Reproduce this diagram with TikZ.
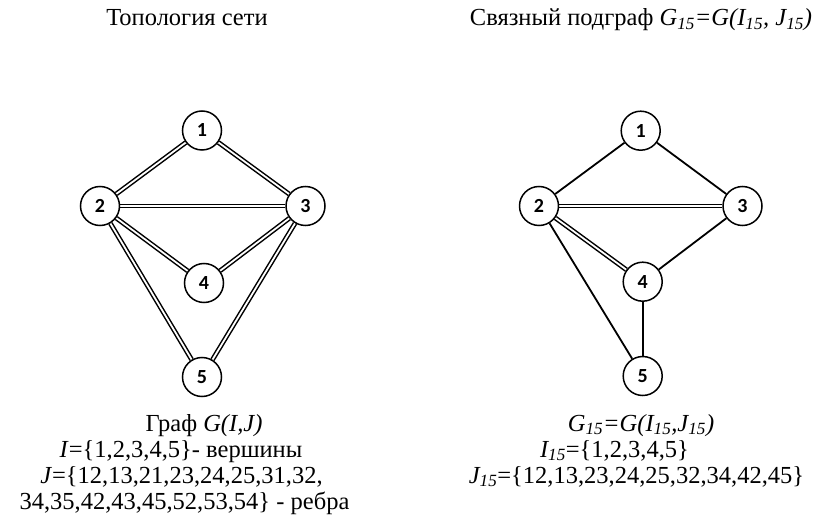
\documentclass[tikz,border=0pt]{standalone}
\usepackage{fontspec}
\setmainfont{Liberation Serif}
\newfontfamily\numfont{Carlito}
\usetikzlibrary{positioning,backgrounds}
\newcommand{\sbs}[1]{\textsubscript{#1}}

\begin{document}
\begin{tikzpicture}[x=1pt, y=-1pt, on grid, font=\fontsize{24.5}{26}\selectfont,
    v/.style={draw, circle, fill=white, line width=1.5pt, inner sep=0pt, minimum size=39pt,
      font=\numfont\bfseries\fontsize{20}{20}\selectfont},
    dbl/.style={line width=1.5pt, double, double distance=1.8pt},
    sgl/.style={line width=1.8pt},
    lbl/.style={anchor=base, inner sep=0pt}]
  \useasboundingbox (0,0) rectangle (821,526);
  % network topology
  \node[lbl] (ttl) at (187,26) {Топология сети};
  \node[v] (L1) at (202,130.5) {1};
  \node[v, below left=75.5pt and 102pt of L1] (L2) {2};
  \node[v, below right=75.5pt and 103.5pt of L1] (L3) {3};
  \node[v, below right=152.5pt and 2pt of L1] (L4) {4};
  \node[v, below=246.5pt of L1] (L5) {5};
  \begin{scope}[on background layer]
    \foreach \a/\b in {1/2,1/3,2/3,2/4,2/5,3/4,3/5}
      \draw[dbl] (L\a) -- (L\b);
  \end{scope}
  \node[lbl] (lg) at (204,431) {Граф \textit{G(I,J)}};
  \node[lbl] (li) at (181,457) {\textit{I}=\{1,2,3,4,5\}- вершины};
  \node[lbl] (lj) at (181.5,483) {\textit{J}=\{12,13,21,23,24,25,31,32,};
  \node[lbl] (lk) at (184.5,509) {34,35,42,43,45,52,53,54\} - ребра};
  % connected subgraph
  \node[lbl] (ttr) at (641,26) {Связный подграф \textit{G\sbs{15}=G(I\sbs{15}, J\sbs{15})}};
  \node[v] (R1) at (640.7,130.7) {1};
  \node[v, below left=75.3pt and 101.7pt of R1] (R2) {2};
  \node[v, below right=75.3pt and 101.8pt of R1] (R3) {3};
  \node[v, below right=151pt and 2pt of R1] (R4) {4};
  \node[v, below right=245.3pt and 2pt of R1] (R5) {5};
  \begin{scope}[on background layer]
    \draw[sgl] (R1) -- (R2);
    \draw[sgl] (R1) -- (R3);
    \draw[dbl] (R2) -- (R3);
    \draw[dbl] (R2) -- (R4);
    \draw[sgl] (R2) -- (R5);
    \draw[sgl] (R3) -- (R4);
    \draw[sgl] (R4) -- (R5);
  \end{scope}
  \node[lbl] (rg) at (641,431) {\textit{G\sbs{15}=G(I\sbs{15},J\sbs{15})}};
  \node[lbl] (ri) at (614.5,457) {\textit{I\sbs{15}}=\{1,2,3,4,5\}};
  \node[lbl] (rj) at (636.5,483) {\textit{J\sbs{15}}=\{12,13,23,24,25,32,34,42,45\}};
\end{tikzpicture}
\end{document}
